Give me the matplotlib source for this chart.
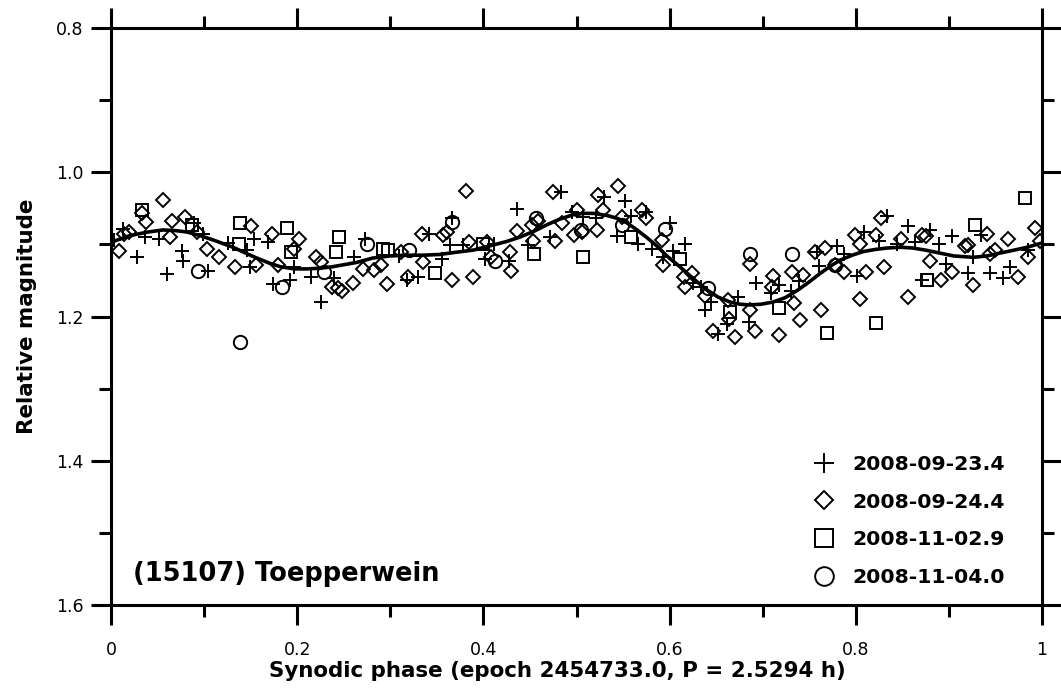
import matplotlib
matplotlib.use("Agg")
import matplotlib.pyplot as plt
from matplotlib.ticker import MultipleLocator, FixedLocator, FixedFormatter

plt.rcParams['font.family'] = ['DejaVu Sans']

# --- 2008-09-23.4 (plus) ---
phase_0923 = [0.003, 0.013, 0.028, 0.037, 0.052, 0.060, 0.076, 0.077, 0.089, 0.099,
              0.104, 0.126, 0.146, 0.154, 0.149, 0.169, 0.174, 0.192, 0.197, 0.215,
              0.226, 0.240, 0.261, 0.273, 0.309, 0.318, 0.330, 0.342, 0.356, 0.364,
              0.366, 0.378, 0.402, 0.411, 0.427, 0.436, 0.448, 0.472, 0.483, 0.495,
              0.507, 0.521, 0.530, 0.552, 0.543, 0.559, 0.575, 0.566, 0.581, 0.600,
              0.604, 0.617, 0.593, 0.625, 0.634, 0.645, 0.638, 0.652, 0.662, 0.674,
              0.685, 0.693, 0.709, 0.717, 0.730, 0.739, 0.758, 0.760, 0.780, 0.787,
              0.801, 0.809, 0.825, 0.833, 0.844, 0.856, 0.864, 0.871, 0.880, 0.889,
              0.897, 0.903, 0.920, 0.926, 0.935, 0.944, 0.958, 0.966, 0.985]
mag_0923 = [1.094, 1.078, 1.118, 1.090, 1.093, 1.141, 1.109, 1.123, 1.071, 1.085,
            1.137, 1.098, 1.108, 1.092, 1.132, 1.097, 1.155, 1.149, 1.132, 1.145,
            1.180, 1.146, 1.118, 1.093, 1.116, 1.150, 1.145, 1.086, 1.120, 1.101,
            1.063, 1.101, 1.120, 1.099, 1.123, 1.051, 1.101, 1.090, 1.027, 1.055,
            1.062, 1.064, 1.034, 1.040, 1.089, 1.060, 1.055, 1.100, 1.106, 1.071,
            1.109, 1.100, 1.117, 1.154, 1.159, 1.180, 1.191, 1.224, 1.211, 1.173,
            1.207, 1.154, 1.168, 1.157, 1.164, 1.151, 1.111, 1.130, 1.102, 1.114,
            1.144, 1.083, 1.096, 1.061, 1.099, 1.074, 1.097, 1.150, 1.080, 1.099,
            1.127, 1.088, 1.139, 1.117, 1.087, 1.139, 1.147, 1.131, 1.108]

# --- 2008-09-24.4 (diamond) ---
phase_0924 = [0.009, 0.014, 0.019, 0.033, 0.038, 0.056, 0.066, 0.063, 0.079, 0.092,
              0.103, 0.116, 0.133, 0.150, 0.156, 0.173, 0.179, 0.197, 0.202, 0.220,
              0.226, 0.237, 0.244, 0.248, 0.260, 0.271, 0.282, 0.290, 0.296, 0.312,
              0.319, 0.334, 0.335, 0.357, 0.361, 0.366, 0.381, 0.384, 0.389, 0.404,
              0.408, 0.429, 0.430, 0.436, 0.452, 0.453, 0.459, 0.475, 0.477, 0.484,
              0.497, 0.500, 0.506, 0.522, 0.523, 0.529, 0.545, 0.549, 0.570, 0.575,
              0.592, 0.593, 0.615, 0.624, 0.617, 0.638, 0.647, 0.663, 0.664, 0.670,
              0.686, 0.686, 0.692, 0.711, 0.710, 0.717, 0.732, 0.734, 0.740, 0.743,
              0.756, 0.763, 0.767, 0.778, 0.787, 0.799, 0.804, 0.804, 0.811, 0.822,
              0.827, 0.830, 0.849, 0.856, 0.871, 0.875, 0.880, 0.892, 0.903, 0.917,
              0.920, 0.926, 0.941, 0.944, 0.950, 0.963, 0.974, 0.985, 0.992, 0.998]
mag_0924 = [1.109, 1.086, 1.083, 1.057, 1.069, 1.039, 1.068, 1.090, 1.062, 1.083,
            1.106, 1.118, 1.132, 1.075, 1.129, 1.085, 1.129, 1.107, 1.092, 1.117,
            1.124, 1.159, 1.161, 1.164, 1.154, 1.134, 1.136, 1.129, 1.155, 1.111,
            1.145, 1.086, 1.124, 1.087, 1.083, 1.150, 1.026, 1.097, 1.145, 1.097,
            1.117, 1.110, 1.137, 1.082, 1.073, 1.096, 1.067, 1.027, 1.096, 1.070,
            1.087, 1.052, 1.083, 1.080, 1.032, 1.052, 1.019, 1.062, 1.053, 1.064,
            1.094, 1.128, 1.145, 1.140, 1.159, 1.171, 1.220, 1.177, 1.203, 1.229,
            1.127, 1.191, 1.220, 1.144, 1.159, 1.226, 1.138, 1.181, 1.205, 1.143,
            1.111, 1.191, 1.105, 1.128, 1.138, 1.087, 1.099, 1.176, 1.138, 1.087,
            1.064, 1.131, 1.092, 1.173, 1.087, 1.089, 1.123, 1.150, 1.138, 1.102,
            1.101, 1.156, 1.086, 1.113, 1.108, 1.093, 1.145, 1.117, 1.077, 1.096]

# --- 2008-11-02.9 (square) ---
phase_1102 = [0.033, 0.087, 0.139, 0.137, 0.189, 0.193, 0.245, 0.242, 0.292, 0.298,
              0.348, 0.400, 0.454, 0.507, 0.559, 0.611, 0.665, 0.717, 0.769, 0.822,
              0.876, 0.928, 0.982]
mag_1102 = [1.052, 1.073, 1.070, 1.100, 1.077, 1.111, 1.090, 1.110, 1.106, 1.108,
            1.140, 1.099, 1.113, 1.118, 1.090, 1.120, 1.194, 1.188, 1.223, 1.209,
            1.150, 1.073, 1.036]

# --- 2008-11-04.0 (circle) ---
phase_1104 = [0.093, 0.139, 0.184, 0.229, 0.275, 0.320, 0.366, 0.412, 0.457, 0.505,
              0.549, 0.595, 0.641, 0.686, 0.731, 0.778]
mag_1104 = [1.137, 1.235, 1.159, 1.138, 1.100, 1.108, 1.069, 1.123, 1.063, 1.080,
            1.073, 1.078, 1.161, 1.114, 1.113, 1.129]

# --- fitted lightcurve ---
curve_phase = [0.000, 0.020, 0.039, 0.056, 0.070, 0.082, 0.096, 0.110, 0.131, 0.153,
               0.170, 0.182, 0.197, 0.211, 0.225, 0.238, 0.264, 0.281, 0.300, 0.318,
               0.335, 0.353, 0.370, 0.389, 0.410, 0.425, 0.439, 0.454, 0.468, 0.482,
               0.496, 0.507, 0.518, 0.533, 0.544, 0.554, 0.565, 0.576, 0.587, 0.597,
               0.611, 0.625, 0.640, 0.652, 0.665, 0.676, 0.686, 0.698, 0.711, 0.724,
               0.737, 0.750, 0.762, 0.773, 0.783, 0.796, 0.808, 0.821, 0.834, 0.848,
               0.861, 0.875, 0.890, 0.905, 0.926, 0.941, 0.955, 0.970, 0.984, 1.000]
curve_mag = [1.097, 1.088, 1.083, 1.080, 1.081, 1.083, 1.088, 1.094, 1.104, 1.117,
             1.126, 1.131, 1.134, 1.134, 1.133, 1.131, 1.125, 1.119, 1.116, 1.115,
             1.115, 1.114, 1.111, 1.108, 1.101, 1.096, 1.090, 1.082, 1.073, 1.065,
             1.059, 1.057, 1.057, 1.060, 1.064, 1.070, 1.080, 1.091, 1.103, 1.116,
             1.131, 1.147, 1.163, 1.173, 1.180, 1.183, 1.184, 1.183, 1.180, 1.174,
             1.164, 1.152, 1.140, 1.130, 1.122, 1.115, 1.110, 1.107, 1.105, 1.104,
             1.105, 1.108, 1.112, 1.116, 1.118, 1.116, 1.112, 1.108, 1.104, 1.098]

session_labels = ["2008-09-23.4", "2008-09-24.4", "2008-11-02.9", "2008-11-04.0"]
x_ticks = [0, 0.2, 0.4, 0.6, 0.8, 1.0]
x_tick_labels = ["0", "0.2", "0.4", "0.6", "0.8", "1"]
y_ticks = [0.8, 1.0, 1.2, 1.4, 1.6]
y_tick_labels = ["0.8", "1.0", "1.2", "1.4", "1.6"]

fig = plt.figure(figsize=(10.61, 6.95), dpi=100)
ax = fig.add_axes([111 / 1061, 1 - 605 / 695, 931 / 1061, 577 / 695])

mk = dict(linestyle="none", markerfacecolor="none", markeredgecolor="black",
          markeredgewidth=1.4, color="black")
ax.plot(phase_0923, mag_0923, marker="+", markersize=10, label=session_labels[0], **mk)
ax.plot(phase_0924, mag_0924, marker="D", markersize=6.8, label=session_labels[1], **mk)
ax.plot(phase_1102, mag_1102, marker="s", markersize=9.2, label=session_labels[2], **mk)
ax.plot(phase_1104, mag_1104, marker="o", markersize=9.6, label=session_labels[3], **mk)
ax.plot(curve_phase, curve_mag, color="black", linewidth=2.6, zorder=5,
        solid_capstyle="round")

ax.set_xlim(0, 1)
ax.set_ylim(1.6, 0.8)

ax.xaxis.set_major_locator(FixedLocator(x_ticks))
ax.xaxis.set_major_formatter(FixedFormatter(x_tick_labels))
ax.xaxis.set_minor_locator(MultipleLocator(0.1))
ax.yaxis.set_major_locator(FixedLocator(y_ticks))
ax.yaxis.set_major_formatter(FixedFormatter(y_tick_labels))
ax.yaxis.set_minor_locator(MultipleLocator(0.1))

for s in ax.spines.values():
    s.set_linewidth(2.2)
ax.tick_params(which="both", direction="out", top=True, right=True,
               labeltop=False, labelright=False, width=2.2, labelsize=12.5)
ax.tick_params(which="major", length=14.4)
ax.tick_params(which="minor", length=8.4)
ax.tick_params(axis="x", which="major", pad=11.5)
ax.tick_params(axis="y", which="major", pad=5.5)

ax.set_xlabel("Synodic phase (epoch 2454733.0, P = 2.5294 h)",
              fontsize=15.4, fontweight="bold")
ax.set_ylabel("Relative magnitude", fontsize=15.4, fontweight="bold")
ax.xaxis.set_label_coords(0.479, -0.097)
ax.yaxis.set_label_coords(-0.079, 0.5)

ax.text(0.0236, 0.042, "(15107) Toepperwein", transform=ax.transAxes,
        ha="left", va="baseline", fontsize=18.5, fontweight="bold")

leg = ax.legend(loc="lower right", bbox_to_anchor=(0.9605, 0.031), frameon=False,
                prop=dict(size=14.7, weight="bold"), markerscale=1.4,
                handlelength=0.9, handletextpad=0.95, labelspacing=0.92,
                borderpad=0, borderaxespad=0)

fig.savefig("out.png", dpi=100)
